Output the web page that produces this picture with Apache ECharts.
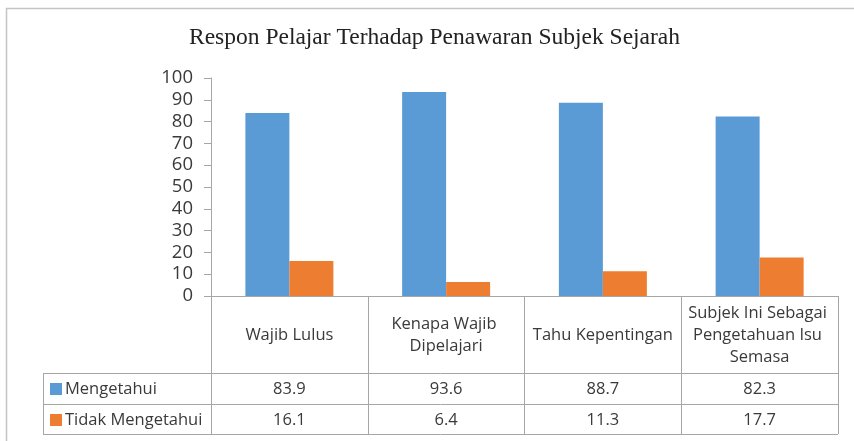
<!DOCTYPE html>
<html>
<head>
<meta charset="utf-8">
<script src="https://cdn.jsdelivr.net/npm/echarts@6/dist/echarts.min.js"></script>
<style>
  html, body { margin: 0; padding: 0; background: #fff; }
  #chart { width: 854px; height: 441px; }
</style>
</head>
<body>
<div id="chart"></div>
<script>
// data
const categories = ['Wajib Lulus', 'Kenapa Wajib Dipelajari', 'Tahu Kepentingan', 'Subjek Ini Sebagai Pengetahuan Isu Semasa'];
const mengetahui = [83.9, 93.6, 88.7, 82.3];
const tidakMengetahui = [16.1, 6.4, 11.3, 17.7];
const seriesNames = ['Mengetahui', 'Tidak Mengetahui'];
const colors = ['#5B9BD5', '#ED7D31'];

const lineColor = '#A6A6A6';
const textColor = '#3A3A3A';
const sans = '"Open Sans", sans-serif';

const chart = echarts.init(document.getElementById('chart'));

const option = {
  animation: false,
  title: {
    text: 'Respon Pelajar Terhadap Penawaran Subjek Sejarah',
    left: 189,
    top: 26,
    padding: 0,
    textStyle: { fontFamily: '"Liberation Serif", serif', fontWeight: 'normal', fontSize: 23.5, color: '#222' }
  },
  legend: {
    orient: 'vertical',
    left: 50,
    top: 379,
    padding: 0,
    itemGap: 11,
    itemWidth: 12,
    itemHeight: 12,
    icon: 'rect',
    selectedMode: false,
    textStyle: { fontFamily: sans, fontSize: 16.5, lineHeight: 20, color: textColor, padding: [0, 0, 0, -2] },
    data: seriesNames
  },
  grid: { left: 211, right: 16, top: 78, bottom: 145 },
  xAxis: {
    type: 'category',
    data: categories,
    axisLine: { lineStyle: { color: lineColor } },
    axisTick: { show: true, length: 138, lineStyle: { color: lineColor } },
    axisLabel: {
      interval: 0,
      margin: 39,
      verticalAlign: 'middle',
      width: 148,
      overflow: 'break',
      lineHeight: 22,
      fontFamily: sans,
      fontSize: 16.5,
      color: textColor
    }
  },
  yAxis: {
    type: 'value',
    min: 0,
    max: 100,
    interval: 10,
    splitLine: { show: false },
    axisLine: { show: true, lineStyle: { color: lineColor } },
    axisTick: { show: true, length: 7, lineStyle: { color: lineColor } },
    axisLabel: { margin: 18, fontFamily: sans, fontSize: 18.5, color: textColor }
  },
  series: [
    { name: seriesNames[0], type: 'bar', data: mengetahui, barWidth: 44, barGap: '0%', itemStyle: { color: colors[0] } },
    { name: seriesNames[1], type: 'bar', data: tidakMengetahui, barWidth: 44, barGap: '0%', itemStyle: { color: colors[1] } }
  ]
};
chart.setOption(option);

// data table below the axis
const rowLines = [373, 404, 434];
const tableLeft = 43;
const x0 = chart.convertToPixel({ gridIndex: 0 }, [0, 0])[0];
const x1 = chart.convertToPixel({ gridIndex: 0 }, [1, 0])[0];
const band = x1 - x0;
const tableRight = x0 + band * (categories.length - 0.5);
const elements = [];

// outer frame
elements.push({
  type: 'rect',
  shape: { x: 6.5, y: 8.5, width: 900, height: 500 },
  style: { fill: null, stroke: '#C4C4C4', lineWidth: 1.5 },
  silent: true
});

rowLines.forEach(y => {
  elements.push({
    type: 'line',
    shape: { x1: tableLeft, y1: y + 0.5, x2: tableRight, y2: y + 0.5 },
    style: { stroke: lineColor, lineWidth: 1 }
  });
});
elements.push({
  type: 'line',
  shape: { x1: tableLeft + 0.5, y1: rowLines[0], x2: tableLeft + 0.5, y2: rowLines[2] + 1 },
  style: { stroke: lineColor, lineWidth: 1 }
});

[mengetahui, tidakMengetahui].forEach((vals, r) => {
  const yMid = (rowLines[r] + rowLines[r + 1]) / 2 + 1;
  vals.forEach((v, i) => {
    const x = x0 + band * i;
    elements.push({
      type: 'text',
      x: x,
      y: yMid,
      style: {
        text: v.toFixed(1),
        align: 'center',
        verticalAlign: 'middle',
        font: '16.5px "Open Sans", sans-serif',
        fill: textColor
      }
    });
  });
});

chart.setOption({ graphic: elements });
</script>
</body>
</html>
